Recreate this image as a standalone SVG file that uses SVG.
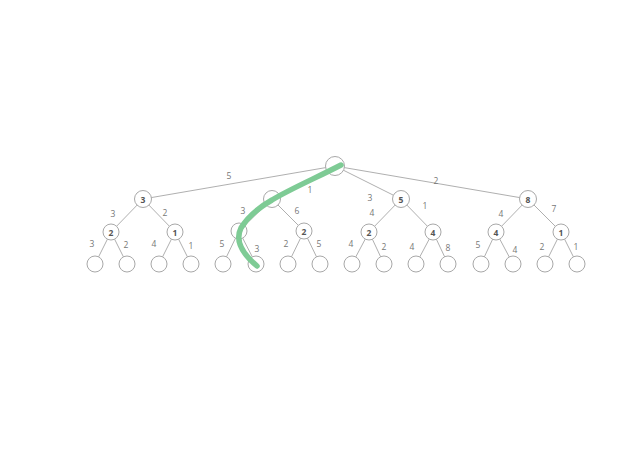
<svg xmlns="http://www.w3.org/2000/svg" width="638" height="452" viewBox="0 0 638 452">
<style>
.e{stroke:#9a9a9a;stroke-width:0.8;fill:none}
.n{fill:#fff;stroke:#a8a8a8;stroke-width:1}
.t{font-family:"Open Sans","Liberation Sans",sans-serif;font-size:8.5px;fill:#777;text-anchor:middle;dominant-baseline:central}
.v{font-family:"Open Sans","Liberation Sans",sans-serif;font-size:8.5px;fill:#555;text-anchor:middle;dominant-baseline:central;font-weight:bold}
.p{fill:none;stroke:#7ecb95;stroke-width:5.5;stroke-linecap:round}
</style>
<rect width="638" height="452" fill="#fff"/>
<g id="connectors">
<path class="e" d="M335,166L143,199M335,166L272,199M335,166L401,199M335,166L528,199"/>
<path class="e" d="M143,199L111,232M143,199L175,232M272,199L239,231M272,199L304,231M401,199L369,232M401,199L433,232M528,199L496,232M528,199L561,232"/>
<path class="e" d="M111,232L95,264M111,232L127,264M175,232L159,264M175,232L191,264M239,231L223,264M239,231L256,264M304,231L288,264M304,231L320,264M369,232L352,264M369,232L384,264M433,232L416,264M433,232L448,264M496,232L481,264M496,232L513,264M561,232L545,264M561,232L577,264"/>
<g id="edge-labels">
<text class="t" x="229" y="175">5</text>
<text class="t" x="310" y="189">1</text>
<text class="t" x="370" y="197">3</text>
<text class="t" x="436" y="180">2</text>
<text class="t" x="113" y="213">3</text>
<text class="t" x="165" y="212">2</text>
<text class="t" x="243" y="210">3</text>
<text class="t" x="297" y="210">6</text>
<text class="t" x="372" y="212">4</text>
<text class="t" x="425" y="205">1</text>
<text class="t" x="501" y="213">4</text>
<text class="t" x="554" y="208">7</text>
<text class="t" x="92" y="243">3</text>
<text class="t" x="126" y="244">2</text>
<text class="t" x="154" y="243">4</text>
<text class="t" x="191" y="245">1</text>
<text class="t" x="222" y="243">5</text>
<text class="t" x="257" y="248">3</text>
<text class="t" x="286" y="243">2</text>
<text class="t" x="319" y="243">5</text>
<text class="t" x="351" y="243">4</text>
<text class="t" x="384" y="246">2</text>
<text class="t" x="412" y="246">4</text>
<text class="t" x="448" y="247">8</text>
<text class="t" x="478" y="244">5</text>
<text class="t" x="515" y="249">4</text>
<text class="t" x="542" y="246">2</text>
<text class="t" x="576" y="246">1</text>
</g>
</g>
<g id="nodes">
<g id="root"><circle class="n" cx="335" cy="166" r="9.5"/></g>
<g id="n1a"><circle class="n" cx="143" cy="199" r="8.5"/><text class="v" x="143" y="199">3</text></g>
<g id="n1b"><circle class="n" cx="272" cy="199" r="8.5"/></g>
<g id="n1c"><circle class="n" cx="401" cy="199" r="8.5"/><text class="v" x="401" y="199">5</text></g>
<g id="n1d"><circle class="n" cx="528" cy="199" r="8.5"/><text class="v" x="528" y="199">8</text></g>
<g id="n2a"><circle class="n" cx="111" cy="232" r="8"/><text class="v" x="111" y="232">2</text></g>
<g id="n2b"><circle class="n" cx="175" cy="232" r="8"/><text class="v" x="175" y="232">1</text></g>
<g id="n2c"><circle class="n" cx="239" cy="231" r="8"/></g>
<g id="n2d"><circle class="n" cx="304" cy="231" r="8"/><text class="v" x="304" y="231">2</text></g>
<g id="n2e"><circle class="n" cx="369" cy="232" r="8"/><text class="v" x="369" y="232">2</text></g>
<g id="n2f"><circle class="n" cx="433" cy="232" r="8"/><text class="v" x="433" y="232">4</text></g>
<g id="n2g"><circle class="n" cx="496" cy="232" r="8"/><text class="v" x="496" y="232">4</text></g>
<g id="n2h"><circle class="n" cx="561" cy="232" r="8"/><text class="v" x="561" y="232">1</text></g>
<g id="leaves">
<circle class="n" cx="95" cy="264" r="8"/>
<circle class="n" cx="127" cy="264" r="8"/>
<circle class="n" cx="159" cy="264" r="8"/>
<circle class="n" cx="191" cy="264" r="8"/>
<circle class="n" cx="223" cy="264" r="8"/>
<circle class="n" cx="256" cy="264" r="8"/>
<circle class="n" cx="288" cy="264" r="8"/>
<circle class="n" cx="320" cy="264" r="8"/>
<circle class="n" cx="352" cy="264" r="8"/>
<circle class="n" cx="384" cy="264" r="8"/>
<circle class="n" cx="416" cy="264" r="8"/>
<circle class="n" cx="448" cy="264" r="8"/>
<circle class="n" cx="481" cy="264" r="8"/>
<circle class="n" cx="513" cy="264" r="8"/>
<circle class="n" cx="545" cy="264" r="8"/>
<circle class="n" cx="577" cy="264" r="8"/>
</g>
</g>
<g id="highlight">
<path class="p" d="M341,165 C318,177 290,189 272,200 C258,208 247,218 241,228 C236,238 238,250 257,266"/>
</g>
</svg>
